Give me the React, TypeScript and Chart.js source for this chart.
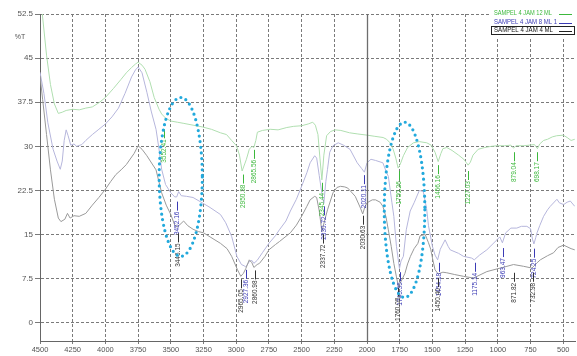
import React, { useEffect, useRef } from "react";
import { Chart, registerables } from "chart.js";

Chart.register(...registerables);

const FONT = '"Liberation Sans", Arial, sans-serif';

const xTicks = [4500, 4250, 4000, 3750, 3500, 3250, 3000, 2750, 2500, 2250, 2000, 1750, 1500, 1250, 1000, 750, 500];
const yTicks = [0, 7.5, 15, 22.5, 30, 37.5, 45, 52.5];

const legendLabels = ["SAMPEL 4 JAM 12 ML", "SAMPEL 4 JAM 8 ML 1", "SAMPEL 4 JAM 4 ML"];

// SAMPEL 4 JAM 12 ML (green)
const greenWn = [4500, 4480, 4450, 4420, 4390, 4360, 4330, 4300, 4250, 4200, 4150, 4100, 4050, 4000, 3940, 3880, 3840, 3800, 3770, 3750, 3720, 3697, 3660, 3627, 3590, 3570, 3540, 3500, 3450, 3400, 3330, 3260, 3190, 3120, 3074, 3035, 2998, 2975, 2955, 2935, 2922, 2900, 2880, 2865, 2850, 2838, 2800, 2740, 2680, 2613, 2560, 2500, 2450, 2415, 2395, 2375, 2360, 2345, 2330, 2309, 2280, 2245, 2200, 2133, 2070, 2000, 1940, 1877, 1850, 1824, 1800, 1780, 1762, 1745, 1722, 1690, 1645, 1600, 1543, 1510, 1480, 1456, 1435, 1420, 1390, 1350, 1300, 1260, 1240, 1227, 1210, 1190, 1150, 1100, 1050, 1005, 950, 900, 880, 860, 800, 760, 720, 697, 680, 650, 620, 584, 550, 500, 470, 440, 412];
const greenT = [57, 52, 45.5, 40.5, 37.2, 35.6, 35.8, 36.1, 36.3, 36.2, 36.5, 36.7, 37.4, 38.3, 39.8, 41.4, 42.5, 43.4, 44, 44.3, 43.8, 43.1, 41, 38.3, 36.3, 35.5, 34.8, 34.3, 34.1, 33.9, 33.6, 33.3, 32.9, 32.3, 32.0, 31, 30.1, 28.5, 25.8, 27, 27.8, 29.5, 30, 29.8, 31, 32.4, 32.7, 32.9, 32.8, 33.2, 33.4, 33.5, 33.8, 34.1, 33.6, 32, 28, 24.3, 28.5, 31.8, 32.5, 32.8, 32.7, 32.3, 32.1, 31.9, 31.7, 31.5, 31.2, 30.6, 29.5, 28, 26.3, 27, 28.4, 29.8, 30.6, 30.8, 30.6, 30.2, 29, 27.4, 28.8, 29.6, 29.8, 29.3, 28.5, 27.8, 27.2, 26.8, 27.3, 28.5, 29.5, 29.8, 30, 30.1, 30.1, 30.2, 29.7, 30.1, 30.1, 30.2, 30.3, 29.6, 30.4, 31, 31.2, 31.6, 31.8, 31.9, 31.5, 31, 31.2];

// SAMPEL 4 JAM 8 ML 1 (purple)
const purpleWn = [4500, 4470, 4440, 4400, 4370, 4345, 4330, 4315, 4300, 4285, 4265, 4240, 4220, 4180, 4150, 4100, 4050, 4000, 3950, 3900, 3850, 3800, 3770, 3750, 3720, 3683, 3650, 3613, 3590, 3570, 3540, 3500, 3470, 3455, 3440, 3420, 3380, 3330, 3260, 3200, 3120, 3080, 3035, 2995, 2960, 2940, 2927, 2900, 2880, 2865, 2840, 2800, 2750, 2700, 2670, 2620, 2586, 2540, 2500, 2460, 2435, 2400, 2385, 2365, 2345, 2330, 2315, 2302, 2285, 2260, 2220, 2180, 2130, 2075, 2040, 2020, 2000, 1970, 1935, 1879, 1850, 1837, 1810, 1795, 1775, 1752, 1740, 1722, 1700, 1670, 1640, 1600, 1570, 1545, 1530, 1500, 1480, 1460, 1440, 1403, 1380, 1364, 1300, 1263, 1200, 1180, 1140, 1084, 1007, 985, 965, 940, 900, 855, 820, 778, 750, 735, 724, 710, 700, 680, 650, 620, 599, 548, 530, 497, 470, 446, 412];
const purpleT = [42.6, 39, 34, 29.5, 27.5, 26.1, 27.5, 31, 32.8, 31.8, 30.2, 30.4, 30, 30.3, 31, 32, 32.9, 33.8, 35, 36.5, 39, 41.8, 43, 43.5, 42.5, 39.2, 36, 32.9, 29.5, 26.1, 23.5, 22.1, 21.4, 21.4, 22.3, 21.6, 21.5, 21.3, 20.4, 19.6, 18.4, 17, 14.7, 11.3, 9.9, 9.7, 9.5, 10.4, 10.6, 10.1, 10.6, 11.9, 13.5, 14.8, 15.8, 17.3, 19, 21, 23.2, 25.5, 27.2, 28.4, 28, 25, 22, 20.3, 24, 26.1, 29, 30.1, 30.6, 30.2, 29.5, 27.2, 26.2, 25.6, 27.2, 27.8, 27.6, 27.2, 25.5, 24.9, 20.5, 18.1, 13, 9.2, 10.5, 11.3, 15.8, 19, 20.4, 22.5, 22.3, 19.5, 16.5, 13, 11.5, 10.7, 12.5, 14.1, 13, 12.4, 11.8, 11.3, 11, 10.7, 11.5, 12.4, 14.1, 14.6, 13.6, 15.3, 16.1, 16.1, 16.4, 16.4, 16, 14.2, 13.4, 14.5, 15.3, 16.5, 18.1, 19.2, 19.8, 21, 20.4, 20.1, 20.5, 20.7, 19.8];

// SAMPEL 4 JAM 4 ML (gray)
const blackWn = [4500, 4480, 4450, 4420, 4390, 4360, 4340, 4310, 4290, 4270, 4240, 4200, 4150, 4100, 4050, 4000, 3960, 3920, 3880, 3840, 3780, 3750, 3720, 3683, 3613, 3570, 3535, 3500, 3470, 3452, 3430, 3402, 3370, 3330, 3288, 3250, 3200, 3120, 3070, 3035, 2990, 2965, 2945, 2927, 2900, 2880, 2865, 2840, 2822, 2780, 2750, 2700, 2670, 2586, 2540, 2500, 2460, 2435, 2400, 2385, 2365, 2345, 2325, 2302, 2260, 2230, 2203, 2170, 2147, 2090, 2050, 2033, 2015, 2000, 1960, 1935, 1900, 1879, 1855, 1837, 1815, 1795, 1775, 1760, 1740, 1710, 1690, 1668, 1640, 1611, 1594, 1555, 1530, 1513, 1495, 1480, 1456, 1420, 1390, 1330, 1263, 1186, 1084, 982, 930, 880, 803, 739, 700, 675, 620, 574, 540, 497, 440, 412];
const blackT = [42, 38, 32, 26, 21, 17.8, 17.2, 17.6, 18.6, 17.8, 18.2, 18.1, 18.6, 20, 21.3, 22.7, 24, 25.2, 26, 26.9, 28.8, 30.1, 29.5, 28.4, 26, 22.1, 20, 18.4, 16.6, 16.3, 16.7, 17.3, 16.5, 15.9, 15.5, 15.3, 14.6, 13.5, 12.6, 11.3, 9.0, 7.9, 8.4, 9.2, 10.7, 10.2, 9.4, 9.9, 10.1, 11.3, 12.4, 13.3, 13.8, 15.3, 16.6, 18.1, 19.8, 20.9, 21.5, 21.3, 19, 15.5, 17.3, 19.2, 22.1, 23, 23.2, 23.1, 22.9, 21.5, 19.5, 18.5, 19.8, 20.4, 20.9, 20.9, 20.5, 19.8, 18, 15.8, 13, 10.1, 7.8, 6.2, 7, 8.4, 10, 11.3, 12.6, 13.5, 14.8, 15, 13.6, 12.5, 10.5, 9.0, 8.3, 8.6, 8.5, 8.2, 7.9, 7.6, 8.7, 9.3, 9.6, 9.9, 9.6, 9.3, 10.2, 10.7, 11.4, 11.9, 12.8, 13.2, 12.6, 12.4];

// peak annotations
const greenPeakWn = [3552, 2950, 2865, 2345, 1753, 1456, 1227, 880, 697];
const greenPeakT = [32.9, 25.2, 29.4, 23.8, 25.8, 26.8, 25.8, 29.0, 29.0];
const greenPeakText = ["3552.41", "2950.38", "2865.56", "2345.44", "1750.26", "1456.16", "1227.03", "879.04", "698.17"];

const purplePeakWn = [3452, 2927, 2330, 2020, 1745, 1452, 1175, 963, 724];
const purplePeakT = [20.6, 9.0, 19.8, 25.1, 8.6, 10.2, 10.2, 12.7, 12.6];
const purplePeakText = ["3452.16", "2927.36", "2330.72", "2020.11", "1745.35", "1454.18", "1175.14", "963.47", "724.25"];

const blackPeakWn = [3446, 2965, 2860, 2338, 2030, 1760, 1456, 875, 732];
const blackPeakT = [15.2, 7.4, 8.9, 15.0, 18.2, 6.0, 7.6, 8.5, 8.5];
const blackPeakText = ["3446.15", "2965.05", "2860.98", "2337.72", "2030.63", "1760.05", "1450.40", "871.82", "732.98"];

// highlighted regions (dotted ellipses)
const ellipseWn = [3424, 1713];
const ellipseT = [24.8, 19.2];
const ellipseHalfWn = [165, 155];
const ellipseHalfT = [13.5, 14.9];

const cursorWn = 2000;

const GREEN = "#b0dfb0";
const PURPLE = "#b6b6dc";
const GRAY = "#9a9a9a";
const GREEN_TXT = "#3cb83c";
const PURPLE_TXT = "#3b3bb5";
const BLACK_TXT = "#333333";

function pts(xs: number[], ys: number[]) {
  return xs.map((x, i) => ({ x, y: ys[i] }));
}

export default function App() {
  const ref = useRef<HTMLCanvasElement>(null);

  useEffect(() => {
    document.body.style.margin = "0";
    const canvas = ref.current!;

    const drawPeaks = (ctx: CanvasRenderingContext2D, xs: any, ys: any, wn: number[], t: number[], txt: string[], color: string) => {
      ctx.save();
      ctx.strokeStyle = color;
      ctx.fillStyle = color;
      ctx.lineWidth = 1;
      ctx.font = `6.5px ${FONT}`;
      for (let i = 0; i < wn.length; i++) {
        const px = Math.round(xs.getPixelForValue(wn[i])) + 0.5;
        const py = ys.getPixelForValue(t[i]);
        ctx.beginPath();
        ctx.moveTo(px, py);
        ctx.lineTo(px, py + 9);
        ctx.stroke();
        ctx.save();
        ctx.translate(px, py + 10);
        ctx.rotate(-Math.PI / 2);
        ctx.textAlign = "right";
        ctx.textBaseline = "middle";
        ctx.fillText(txt[i], 0, 0);
        ctx.restore();
      }
      ctx.restore();
    };

    const overlay = {
      id: "overlay",
      afterDatasetsDraw(chart: any) {
        const { ctx, chartArea } = chart;
        const xs = chart.scales.x;
        const ys = chart.scales.y;

        ctx.save();
        const cx = Math.round(xs.getPixelForValue(cursorWn)) + 0.5;
        ctx.strokeStyle = "#6e6e6e";
        ctx.lineWidth = 1.3;
        ctx.beginPath();
        ctx.moveTo(cx, chartArea.top);
        ctx.lineTo(cx, chartArea.bottom);
        ctx.stroke();
        ctx.restore();

        drawPeaks(ctx, xs, ys, greenPeakWn, greenPeakT, greenPeakText, GREEN_TXT);
        drawPeaks(ctx, xs, ys, purplePeakWn, purplePeakT, purplePeakText, PURPLE_TXT);
        drawPeaks(ctx, xs, ys, blackPeakWn, blackPeakT, blackPeakText, BLACK_TXT);

        ctx.save();
        ctx.strokeStyle = "#22a9dc";
        ctx.lineWidth = 3.2;
        ctx.lineCap = "round";
        ctx.setLineDash([0, 5.6]);
        for (let i = 0; i < ellipseWn.length; i++) {
          const ex = xs.getPixelForValue(ellipseWn[i]);
          const ey = ys.getPixelForValue(ellipseT[i]);
          const rx = Math.abs(xs.getPixelForValue(ellipseWn[i] - ellipseHalfWn[i]) - ex);
          const ry = Math.abs(ys.getPixelForValue(ellipseT[i] + ellipseHalfT[i]) - ey);
          ctx.beginPath();
          ctx.ellipse(ex, ey, rx, ry, 0, 0, Math.PI * 2);
          ctx.stroke();
        }
        ctx.restore();

        ctx.save();
        ctx.fillStyle = "#ffffff";
        ctx.fillRect(489, 8, 88, 29);
        const rowsY = [13.5, 22.5, 30.5];
        const txtCol = [GREEN_TXT, PURPLE_TXT, "#111111"];
        const lineCol = [GREEN_TXT, PURPLE_TXT, "#222222"];
        const txtW = [58, 63, 59];
        ctx.font = `7px ${FONT}`;
        ctx.textBaseline = "middle";
        ctx.textAlign = "left";
        for (let i = 0; i < legendLabels.length; i++) {
          ctx.fillStyle = txtCol[i];
          ctx.fillText(legendLabels[i], 494, rowsY[i], txtW[i]);
          ctx.strokeStyle = lineCol[i];
          ctx.lineWidth = 1;
          ctx.beginPath();
          ctx.moveTo(559, Math.round(rowsY[i]) + 0.5);
          ctx.lineTo(572, Math.round(rowsY[i]) + 0.5);
          ctx.stroke();
        }
        ctx.strokeStyle = "#222222";
        ctx.lineWidth = 1;
        ctx.strokeRect(491.5, 26.5, 83, 8);
        ctx.restore();

        ctx.save();
        ctx.fillStyle = "#555555";
        ctx.font = `7px ${FONT}`;
        ctx.textAlign = "center";
        ctx.textBaseline = "middle";
        ctx.fillText("%T", 20, 37);
        ctx.restore();
      },
    };

    const chart = new Chart(canvas, {
      type: "scatter",
      data: {
        datasets: [
          { label: legendLabels[2], data: pts(blackWn, blackT), borderColor: GRAY, borderWidth: 1, showLine: true, pointRadius: 0, tension: 0, fill: false },
          { label: legendLabels[1], data: pts(purpleWn, purpleT), borderColor: PURPLE, borderWidth: 1, showLine: true, pointRadius: 0, tension: 0, fill: false },
          { label: legendLabels[0], data: pts(greenWn, greenT), borderColor: GREEN, borderWidth: 1, showLine: true, pointRadius: 0, tension: 0, fill: false },
        ],
      },
      options: {
        animation: false,
        responsive: false,
        devicePixelRatio: 1,
        events: [],
        layout: { padding: { top: 14, right: 2, left: 0, bottom: 0 } },
        plugins: { legend: { display: false }, tooltip: { enabled: false } },
        scales: {
          x: {
            type: "linear",
            reverse: true,
            min: 410,
            max: 4500,
            afterBuildTicks: (s: any) => {
              s.ticks = xTicks.map((v) => ({ value: v }));
            },
            afterFit: (s: any) => {
              s.height = 15;
            },
            ticks: {
              autoSkip: false,
              maxRotation: 0,
              padding: 1,
              color: "#555555",
              font: { size: 7.5, family: FONT },
              callback: (v: any) => String(v),
            },
            grid: { color: "#7a7a7a", lineWidth: 1, tickLength: 3 },
            border: { display: true, color: "#666666", width: 1, dash: [3, 2] },
          },
          y: {
            type: "linear",
            min: -3.1,
            max: 52.5,
            afterBuildTicks: (s: any) => {
              s.ticks = yTicks.map((v) => ({ value: v }));
            },
            afterFit: (s: any) => {
              s.width = 40;
            },
            ticks: {
              padding: 2,
              color: "#555555",
              font: { size: 8, family: FONT },
              callback: (v: any) => String(v),
            },
            grid: { color: "#7a7a7a", lineWidth: 1, tickLength: 5 },
            border: { display: true, color: "#666666", width: 1, dash: [3, 2] },
          },
        },
      },
      plugins: [overlay],
    } as any);

    return () => chart.destroy();
  }, []);

  return (
    <div style={{ width: 577, height: 356 }}>
      <canvas ref={ref} width={577} height={356} style={{ display: "block" }} />
    </div>
  );
}
